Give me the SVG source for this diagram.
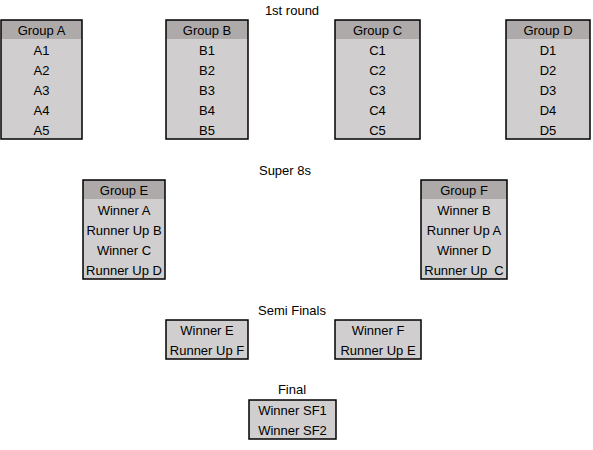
<svg xmlns="http://www.w3.org/2000/svg" width="593" height="450" viewBox="0 0 593 450">
<style>
text{font-family:"Liberation Sans",Arial,sans-serif;font-size:13px;fill:#000;text-anchor:middle}
.hd{fill:#aeaaaa}
.bd{fill:#d0cece}
.fr{fill:none;stroke:#000;stroke-width:1.5}
</style>
<rect width="593" height="450" fill="#fff"/>
<text x="292" y="15">1st round</text>
<text x="285" y="175">Super 8s</text>
<text x="292" y="315">Semi Finals</text>
<text x="292" y="394">Final</text>

<g id="groupA">
<rect class="bd" x="1" y="20" width="81" height="119"/><rect class="hd" x="1" y="20" width="81" height="19"/><rect class="fr" x="1" y="20" width="81" height="119"/>
<text x="41.5" y="35">Group A</text><text x="41.5" y="55">A1</text><text x="41.5" y="75">A2</text><text x="41.5" y="95">A3</text><text x="41.5" y="115">A4</text><text x="41.5" y="135">A5</text>
</g>
<g id="groupB">
<rect class="bd" x="166" y="20" width="82" height="119"/><rect class="hd" x="166" y="20" width="82" height="19"/><rect class="fr" x="166" y="20" width="82" height="119"/>
<text x="207" y="35">Group B</text><text x="207" y="55">B1</text><text x="207" y="75">B2</text><text x="207" y="95">B3</text><text x="207" y="115">B4</text><text x="207" y="135">B5</text>
</g>
<g id="groupC">
<rect class="bd" x="335" y="20" width="85" height="119"/><rect class="hd" x="335" y="20" width="85" height="19"/><rect class="fr" x="335" y="20" width="85" height="119"/>
<text x="377.5" y="35">Group C</text><text x="377.5" y="55">C1</text><text x="377.5" y="75">C2</text><text x="377.5" y="95">C3</text><text x="377.5" y="115">C4</text><text x="377.5" y="135">C5</text>
</g>
<g id="groupD">
<rect class="bd" x="506" y="20" width="84" height="119"/><rect class="hd" x="506" y="20" width="84" height="19"/><rect class="fr" x="506" y="20" width="84" height="119"/>
<text x="548" y="35">Group D</text><text x="548" y="55">D1</text><text x="548" y="75">D2</text><text x="548" y="95">D3</text><text x="548" y="115">D4</text><text x="548" y="135">D5</text>
</g>
<g id="groupE">
<rect class="bd" x="83" y="180" width="82" height="99"/><rect class="hd" x="83" y="180" width="82" height="19"/><rect class="fr" x="83" y="180" width="82" height="99"/>
<text x="124" y="195">Group E</text><text x="124" y="215">Winner A</text><text x="124" y="235">Runner Up B</text><text x="124" y="255">Winner C</text><text x="124" y="275">Runner Up D</text>
</g>
<g id="groupF">
<rect class="bd" x="421" y="180" width="86" height="99"/><rect class="hd" x="421" y="180" width="86" height="19"/><rect class="fr" x="421" y="180" width="86" height="99"/>
<text x="464" y="195">Group F</text><text x="464" y="215">Winner B</text><text x="464" y="235">Runner Up A</text><text x="464" y="255">Winner D</text><text x="464" y="275" xml:space="preserve">Runner Up  C</text>
</g>
<g id="semi1">
<rect class="bd" x="166" y="320" width="82" height="39"/><rect class="fr" x="166" y="320" width="82" height="39"/>
<text x="207" y="335">Winner E</text><text x="207" y="355">Runner Up F</text>
</g>
<g id="semi2">
<rect class="bd" x="335" y="320" width="86" height="39"/><rect class="fr" x="335" y="320" width="86" height="39"/>
<text x="378" y="335">Winner F</text><text x="378" y="355">Runner Up E</text>
</g>
<g id="final">
<rect class="bd" x="249" y="400" width="87" height="39"/><rect class="fr" x="249" y="400" width="87" height="39"/>
<text x="292.5" y="415">Winner SF1</text><text x="292.5" y="435">Winner SF2</text>
</g>
<g id="connectors"/>
</svg>
